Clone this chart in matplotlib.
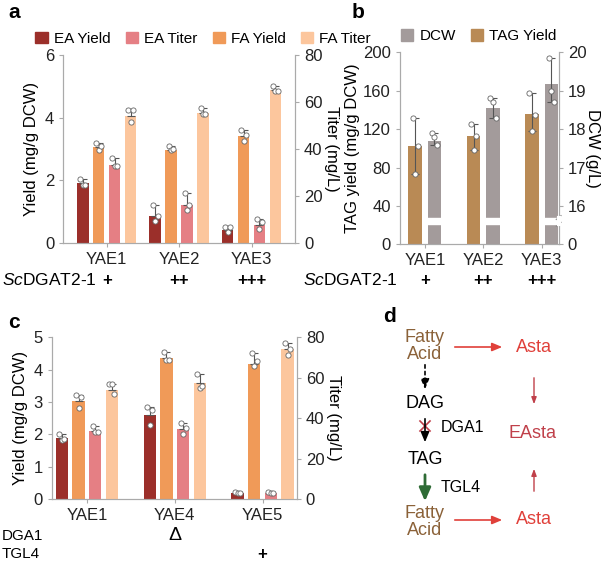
import matplotlib
matplotlib.use("Agg")
import matplotlib.pyplot as plt
import matplotlib.transforms as mtransforms
import numpy as np
from matplotlib.patches import Rectangle, Patch

plt.rcParams['font.family'] = ['Liberation Sans', 'DejaVu Sans']
plt.rcParams['mathtext.fontset'] = 'custom'
plt.rcParams['mathtext.it'] = 'Liberation Sans:italic'
plt.rcParams['mathtext.rm'] = 'Liberation Sans'

# ---------- data ----------
strains_a = ["YAE1", "YAE2", "YAE3"]
dgat_a = ["+", "++", "+++"]
ea_yield_a = [1.9, 0.85, 0.42]
ea_yield_a_pts = [[2.05, 1.85, 1.85], [1.2, 0.7, 0.85], [0.5, 0.35, 0.5]]
fa_yield_a = [3.05, 2.97, 3.4]
fa_yield_a_pts = [[3.2, 2.95, 3.1], [3.1, 2.95, 3.0], [3.6, 3.25, 3.45]]
ea_titer_a = [33.3, 16.3, 7.7]
ea_titer_a_pts = [[36, 32.7, 32.7], [21.3, 14, 16], [10, 6, 8.7]]
fa_titer_a = [54, 55.3, 65]
fa_titer_a_pts = [[56.7, 51.3, 56.7], [57.3, 54.7, 54.7], [66.7, 64.7, 64.7]]

tag_b = [102, 113, 136]
tag_b_pts = [[132, 73, 102], [125, 98, 113], [158, 118, 135]]
dcw_b = [17.7, 18.55, 19.18]
dcw_b_pts = [[17.9, 17.8, 17.6], [18.8, 18.7, 18.3], [19.85, 19.0, 18.7]]

strains_c = ["YAE1", "YAE4", "YAE5"]
dga1_c = ["", "Δ", ""]
tgl4_c = ["", "", "+"]
ea_yield_c = [1.88, 2.6, 0.2]
ea_yield_c_pts = [[2.0, 1.82, 1.85], [2.85, 2.3, 2.75], [0.22, 0.2, 0.2]]
fa_yield_c = [3.02, 4.37, 4.17]
fa_yield_c_pts = [[3.2, 2.8, 3.15], [4.55, 4.3, 4.3], [4.5, 4.1, 4.25]]
ea_titer_c = [33.6, 34.4, 3.2]
ea_titer_c_pts = [[36, 33, 33], [37.5, 32, 35], [3.5, 3.2, 3.2]]
fa_titer_c = [54, 57.6, 74]
fa_titer_c_pts = [[57, 57, 52], [62, 55, 56], [77, 71, 74]]

C_EAY, C_EAT, C_FAY, C_FAT = "#9b2f2a", "#e57f84", "#f09a58", "#fcc69d"
C_TAG, C_DCW = "#b98a55", "#a39b9b"
SP = "#aaaaaa"
FS = 12

fig = plt.figure(figsize=(6.02, 5.62), dpi=100)
axd = fig.add_axes([0, 0, 1, 1], facecolor="none", zorder=10)
axd.set_xlim(0, 602); axd.set_ylim(562, 0); axd.axis("off")


def style(ax):
    ax.spines["top"].set_visible(False)
    for s in ["left", "right", "bottom"]:
        ax.spines[s].set_color(SP)
    ax.tick_params(colors="#222222", labelsize=FS, length=3, color=SP)


def bars(ax, x, vals, pts, w, color, both=False):
    ax.bar(x, vals, w, color=color, zorder=2)
    for xi, v, p in zip(x, vals, pts):
        up = max(p) - v
        lo = v - min(p) if both else 0
        ax.errorbar(xi, v, yerr=[[lo], [up]], fmt="none", ecolor="#555555",
                    elinewidth=0.8, capsize=3, capthick=0.8, zorder=3)
        ax.scatter([xi - w * 0.2, xi, xi + w * 0.2][:len(p)], p, s=14, facecolor="white",
                   edgecolor="#666666", linewidth=0.6, zorder=4)


def yield_titer(ax, x, d, w, off, ymax, tmax, yticks, tticks):
    ax2 = ax.twinx()
    ea_y, ea_yp, fa_y, fa_yp, ea_t, ea_tp, fa_t, fa_tp = d
    bars(ax, x - off * 1.5, ea_y, ea_yp, w, C_EAY)
    bars(ax, x - off * 0.5, fa_y, fa_yp, w, C_FAY)
    bars(ax2, x + off * 0.5, ea_t, ea_tp, w, C_EAT)
    bars(ax2, x + off * 1.5, fa_t, fa_tp, w, C_FAT)
    ax.set_ylim(0, ymax); ax2.set_ylim(0, tmax)
    ax.set_yticks(yticks); ax2.set_yticks(tticks)
    style(ax); style(ax2)
    ax.set_ylabel("Yield (mg/g DCW)", fontsize=FS)
    ax2.set_ylabel("Titer (mg/L)", fontsize=FS, rotation=270, labelpad=12)
    return ax2


def row(ax, labels, ypix, **kw):
    tr = mtransforms.blended_transform_factory(ax.transData, axd.transData)
    for xi, s in enumerate(labels):
        axd.text(xi, ypix, s, transform=tr, ha="center", va="center", **kw)


# ---------- panel a ----------
axa = fig.add_axes([0.105, 0.568, 0.385, 0.334])
xa = np.arange(3)
yield_titer(axa, xa, (ea_yield_a, ea_yield_a_pts, fa_yield_a, fa_yield_a_pts,
                      ea_titer_a, ea_titer_a_pts, fa_titer_a, fa_titer_a_pts),
            0.16, 0.22, 6, 80, [0, 2, 4, 6], [0, 20, 40, 60, 80])
axa.set_xlim(-0.6, 2.6)
axa.set_xticks(xa); axa.set_xticklabels(strains_a, fontsize=FS)
axd.text(2, 280, r"$\it{Sc}$DGAT2-1", fontsize=12.5, va="center")
row(axa, dgat_a, 281, fontsize=FS, fontweight="bold")
axa.legend(handles=[Patch(color=C_EAY, label="EA Yield"), Patch(color=C_EAT, label="EA Titer"),
                    Patch(color=C_FAY, label="FA Yield"), Patch(color=C_FAT, label="FA Titer")],
           ncol=4, loc="lower left", bbox_to_anchor=(-0.16, 1.0), frameon=False, fontsize=11,
           handlelength=0.8, handleheight=0.8, handletextpad=0.4, columnspacing=1.0, borderaxespad=0.2)

# ---------- panel b ----------
def dcw_to_left(v):
    return 40 + (np.asarray(v, dtype=float) - 16) * 40

axb = fig.add_axes([0.664, 0.565, 0.264, 0.342])
xb = np.arange(3)
bars(axb, xb - 0.165, tag_b, tag_b_pts, 0.23, C_TAG, both=True)
bars(axb, xb + 0.165, dcw_to_left(dcw_b), [dcw_to_left(p) for p in dcw_b_pts], 0.23, C_DCW, both=True)
for xi in xb:
    axb.add_patch(Rectangle((xi + 0.165 - 0.13, 21), 0.26, 7, color="white", zorder=3))
axb.set_ylim(0, 200); axb.set_xlim(-0.43, 2.29)
axb.set_yticks([0, 40, 80, 120, 160, 200])
axb.set_xticks(xb); axb.set_xticklabels(strains_a, fontsize=FS)
style(axb)
axb.set_ylabel("TAG yield (mg/g DCW)", fontsize=FS, labelpad=2)
axb2 = axb.twinx()
axb2.set_ylim(0, 200)
axb2.set_yticks([0, 40, 80, 120, 160, 200])
axb2.set_yticklabels(["0", "16", "17", "18", "19", "20"])
style(axb2)
axb2.set_ylabel("DCW (g/L)", fontsize=FS, rotation=270, labelpad=10)
axb2.plot([1, 1], [21, 28], transform=axb2.get_yaxis_transform(), color="white", lw=3, zorder=5, clip_on=False)
axb2.plot([0.985, 1.015], [19, 23], transform=axb2.get_yaxis_transform(), color="#888888", lw=0.8, clip_on=False)
axb2.plot([0.985, 1.015], [26, 30], transform=axb2.get_yaxis_transform(), color="#888888", lw=0.8, clip_on=False)
axd.text(303, 280, r"$\it{Sc}$DGAT2-1", fontsize=12.5, va="center")
row(axb, dgat_a, 281, fontsize=FS, fontweight="bold")
axb.legend(handles=[Patch(color=C_DCW, label="DCW"), Patch(color=C_TAG, label="TAG Yield")],
           ncol=2, loc="lower left", bbox_to_anchor=(-0.05, 1.0), frameon=False, fontsize=11,
           handlelength=0.8, handleheight=0.8, handletextpad=0.4, columnspacing=1.0, borderaxespad=0.2)

# ---------- panel c ----------
axc = fig.add_axes([0.086, 0.112, 0.407, 0.288])
xc = np.arange(3)
yield_titer(axc, xc, (ea_yield_c, ea_yield_c_pts, fa_yield_c, fa_yield_c_pts,
                      ea_titer_c, ea_titer_c_pts, fa_titer_c, fa_titer_c_pts),
            0.14, 0.19, 5, 80, [0, 1, 2, 3, 4, 5], [0, 20, 40, 60, 80])
axc.set_xlim(-0.4, 2.39)
axc.set_xticks(xc); axc.set_xticklabels(strains_c, fontsize=FS)
axd.text(2, 536, "DGA1", fontsize=11, va="center")
axd.text(2, 554, "TGL4", fontsize=11, va="center")
row(axc, dga1_c, 535, fontsize=14)
row(axc, tgl4_c, 554, fontsize=FS, fontweight="bold")

# ---------- panel d (diagram) ----------
BR, RD, ER = "#8b6239", "#e0403a", "#c0404a"
DF = 13
axd.text(425, 346, "Fatty\nAcid", color=BR, ha="center", va="center", fontsize=DF, linespacing=0.95)
axd.text(534, 347, "Asta", color=RD, ha="center", va="center", fontsize=DF)
axd.text(425, 404, "DAG", color="black", ha="center", va="center", fontsize=DF)
axd.text(425, 460, "TAG", color="black", ha="center", va="center", fontsize=DF)
axd.text(425, 522, "Fatty\nAcid", color=BR, ha="center", va="center", fontsize=DF, linespacing=0.95)
axd.text(534, 520, "Asta", color=RD, ha="center", va="center", fontsize=DF)
axd.text(532, 433, "EAsta", color=ER, ha="center", va="center", fontsize=DF)
axd.text(441, 428, "DGA1", color="black", ha="left", va="center", fontsize=11.5)
axd.text(441, 488, "TGL4", color="black", ha="left", va="center", fontsize=11.5)
ak = dict(arrowstyle="-|>,head_width=0.25,head_length=0.6", lw=1.2)
axd.annotate("", (505, 347), (452, 347), arrowprops=dict(ak, color=RD))
axd.annotate("", (505, 520), (452, 520), arrowprops=dict(ak, color=RD))
axd.annotate("", (534, 407), (534, 375), arrowprops=dict(arrowstyle="-|>,head_width=0.15,head_length=0.4", lw=1, color=ER))
axd.annotate("", (534, 466), (534, 494), arrowprops=dict(arrowstyle="-|>,head_width=0.15,head_length=0.4", lw=1, color=ER))
axd.annotate("", (425, 392), (425, 362), arrowprops=dict(ak, color="black", linestyle=(0, (2, 2))))
axd.annotate("", (425, 445), (425, 416), arrowprops=dict(ak, color="black"))
axd.plot([420, 430], [421, 431], color=ER, lw=1.2)
axd.plot([420, 430], [431, 421], color=ER, lw=1.2)
axd.annotate("", (425, 504), (425, 472), arrowprops=dict(arrowstyle="-|>,head_width=0.35,head_length=0.8", lw=2, color="#2e6b35"))

# panel letters
for x, y, s in [(8, 12, "a"), (352, 12, "b"), (8, 322, "c"), (383, 316, "d")]:
    axd.text(x, y, s, fontsize=15, fontweight="bold", va="center")

fig.savefig("out.png", dpi=100)
